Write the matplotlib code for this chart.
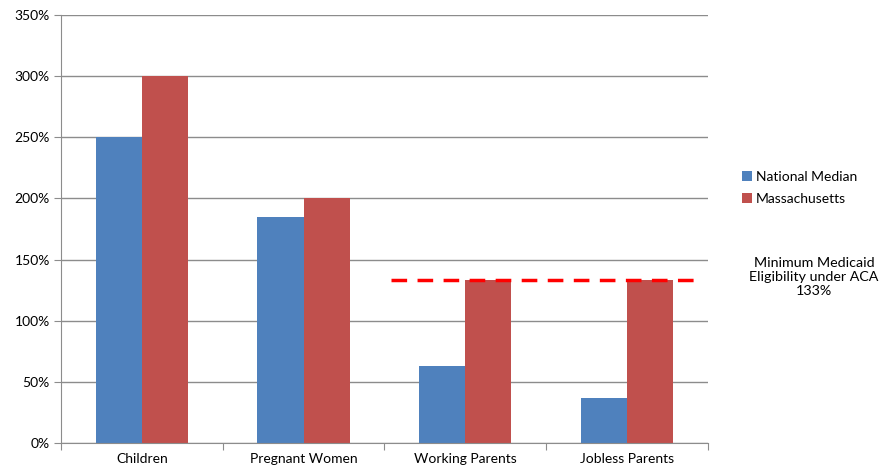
import numpy as np
import matplotlib.pyplot as plt
from matplotlib.ticker import FixedLocator, PercentFormatter

categories = ["Children", "Pregnant Women", "Working Parents", "Jobless Parents"]
national_median = [250, 185, 63, 37]
massachusetts = [300, 200, 133, 133]
aca_minimum = 133

plt.rcParams['font.family'] = ['Lato', 'DejaVu Sans']

fig = plt.figure(figsize=(8.81, 4.72), dpi=100)
ax = fig.add_axes([0.0692, 0.0614, 0.7344, 0.9068])

x = np.arange(len(categories))
w = 0.285
ax.bar(x - w / 2, national_median, w, color="#4F81BD", label="National Median", zorder=2)
ax.bar(x + w / 2, massachusetts, w, color="#C0504D", label="Massachusetts", zorder=2)

# ACA threshold across the parent groups
ax.plot([1.543, 3.435], [aca_minimum, aca_minimum], color="#FF0000", lw=2.5,
        dashes=(4.5, 3), zorder=3)

ax.set_xlim(-0.5, 3.5)
ax.set_ylim(0, 350)
ax.set_yticks(np.arange(0, 351, 50))
ax.yaxis.set_major_formatter(PercentFormatter(decimals=0))
ax.grid(axis="y", color="#8C8C8C", lw=1, zorder=0)

ax.xaxis.set_major_locator(FixedLocator(np.arange(-0.5, 4, 1)))
ax.xaxis.set_minor_locator(FixedLocator(x))
ax.xaxis.set_major_formatter(plt.NullFormatter())
ax.set_xticklabels(categories, minor=True)
ax.tick_params(axis="x", which="major", length=5, color="#8C8C8C", direction="out")
ax.tick_params(axis="x", which="minor", length=0, labelsize=10, pad=7)
ax.tick_params(axis="y", length=5, color="#8C8C8C", labelsize=10, pad=3)

for s in ["top", "right"]:
    ax.spines[s].set_visible(False)
for s in ["left", "bottom"]:
    ax.spines[s].set_color("#8C8C8C")

fig.legend(loc="upper left", bbox_to_anchor=(0.828, 0.665), frameon=False,
           fontsize=10, handlelength=0.7, handleheight=0.7, handletextpad=0.3,
           labelspacing=0.75)

fig.text(0.924, 0.413, "Minimum Medicaid\nEligibility under ACA\n133%", ha="center",
         va="center", fontsize=10.3, linespacing=1.2)

fig.savefig("out.png", dpi=100)
